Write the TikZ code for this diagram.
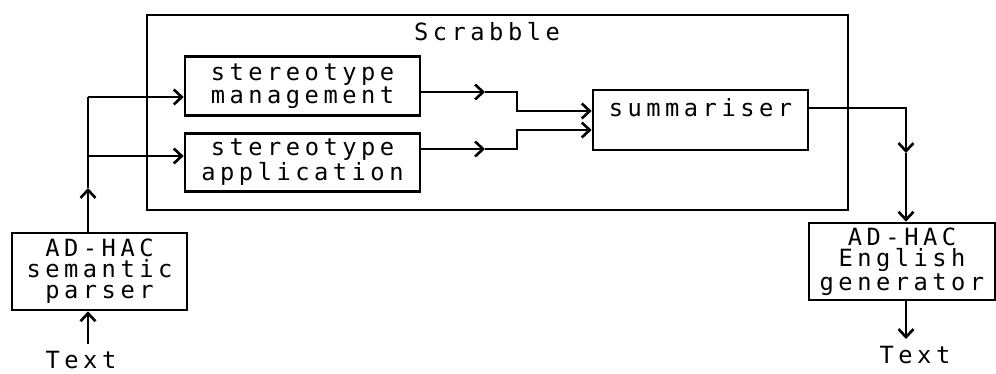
\documentclass[tikz,border=0pt]{standalone}
\usepackage{fontspec}
\newfontfamily\plotfont[LetterSpace=19]{DejaVu Sans Mono}
\usetikzlibrary{arrows.meta, positioning, calc}
\tikzset{
  every picture/.style={font=\plotfont\fontsize{13.5}{12}\selectfont, line width=1.5pt},
  box/.style={draw, align=center, inner sep=2pt, minimum height=1.17cm},
  arrow/.style={-{Straight Barb[length=1.6mm, width=3mm]}},
}
\begin{document}
\begin{tikzpicture}
  \useasboundingbox (0,0) rectangle (19.92,-7.48);
  \node[box, minimum width=14.02cm, minimum height=3.9cm] (frame) at (9.95,-2.25) {};
  \node (title) at (9.74,-0.64) {Scrabble};
  \node[box, minimum width=4.7cm] (mgmt) at (6.05,-1.72) {stereotype\\management};
  \node[box, minimum width=4.7cm] (appl) at (6.05,-3.25) {stereotype\\application};
  \node[box, minimum width=4.3cm, minimum height=0pt, inner ysep=0pt, text height=0.52cm, text depth=0.68cm] (summ) at (14.01,-2.4) {summariser};
  \node[box, minimum width=3.5cm, minimum height=1.54cm] (parser) at (1.99,-5.43) {AD-HAC\\semantic\\parser};
  \node[box, minimum width=3.72cm, minimum height=1.54cm] (gen) at (18.04,-5.23) {AD-HAC\\English\\generator};
  \node (textin) at (1.62,-7.2) {Text};
  \node (textout) at (18.3,-7.1) {Text};

  \coordinate (fork) at (1.76,-3.76);
  \coordinate (top) at (1.76,-1.94);
  \coordinate (low) at (1.76,-3.12);
  \draw[arrow] (textin.north -| top) -- (parser.south -| top);
  \draw[arrow] (parser.north -| top) -- (fork);
  \draw (fork) -- (top);
  \draw[arrow] (top) -- (top -| mgmt.west);
  \draw[arrow] (low) -- (low -| appl.west);

  \coordinate (m1) at (9.7,-1.84);
  \coordinate (m2) at (10.34,-2.22);
  \draw[arrow] (mgmt.east |- m1) -- (m1);
  \draw[arrow] (m1) -| (m2) -- (m2 -| summ.west);
  \coordinate (a1) at (9.7,-2.98);
  \coordinate (a2) at (10.34,-2.6);
  \draw[arrow] (appl.east |- a1) -- (a1);
  \draw[arrow] (a1) -| (a2) -- (a2 -| summ.west);

  \coordinate (s0) at (18.12,-2.16);
  \coordinate (s1) at (18.12,-3.06);
  \draw[arrow] (s0 -| summ.east) -- (s0) -- (s1);
  \draw[arrow] (s1) -- (s1 |- gen.north);
  \draw[arrow] (gen.south -| s1) -- (textout.north -| s1);
\end{tikzpicture}
\end{document}
